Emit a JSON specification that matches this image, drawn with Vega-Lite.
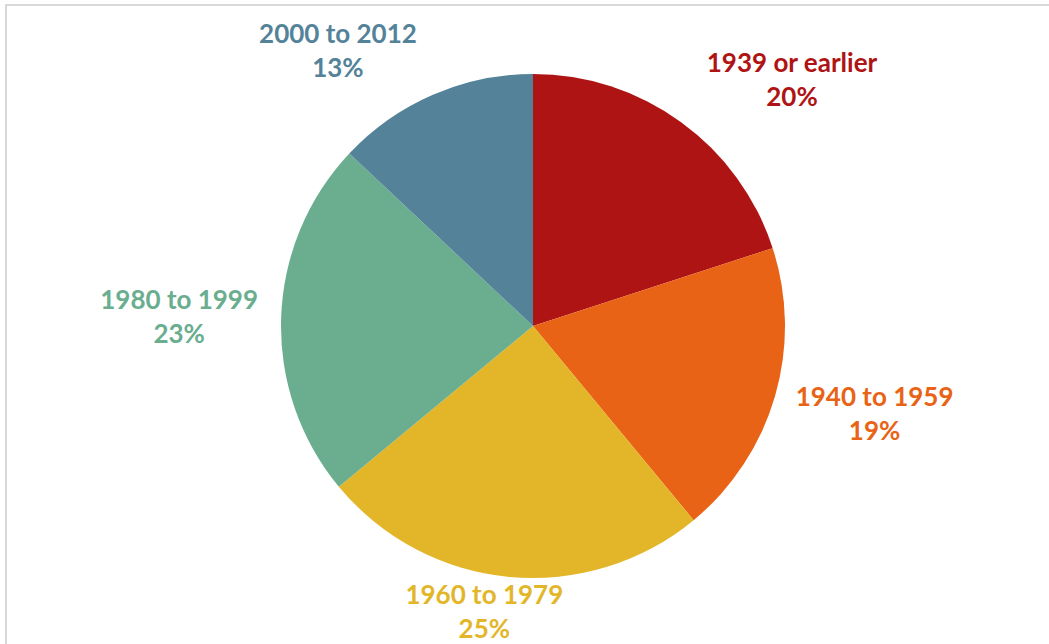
{
  "$schema": "https://vega.github.io/schema/vega-lite/v6.json",
  "width": 1049,
  "height": 644,
  "autosize": {"type": "fit", "contains": "padding"},
  "padding": {"left": 6, "top": 5, "right": -11, "bottom": -3},
  "background": "white",
  "view": {"stroke": "#d9d9d9", "strokeWidth": 2, "fill": "white"},
  "config": {"view": {"stroke": "#d9d9d9", "strokeWidth": 2}},
  "data": {
    "values": [
      {"period": "1939 or earlier", "value": 20, "order": 1},
      {"period": "1940 to 1959", "value": 19, "order": 2},
      {"period": "1960 to 1979", "value": 25, "order": 3},
      {"period": "1980 to 1999", "value": 23, "order": 4},
      {"period": "2000 to 2012", "value": 13, "order": 5}
    ]
  },
  "transform": [
    {"calculate": "datum.period + '\\n' + datum.value + '%'", "as": "label"}
  ],
  "encoding": {
    "theta": {"field": "value", "type": "quantitative", "stack": true},
    "order": {"field": "order", "type": "quantitative"},
    "color": {
      "field": "period",
      "type": "nominal",
      "scale": {
        "domain": ["1939 or earlier", "1940 to 1959", "1960 to 1979", "1980 to 1999", "2000 to 2012"],
        "range": ["#AF1414", "#E86315", "#E3B629", "#6AAD8F", "#548399"]
      },
      "legend": null
    }
  },
  "layer": [
    {"mark": {"type": "arc", "outerRadius": 252}},
    {
      "mark": {"type": "text", "radius": 262, "align": "center", "baseline": "middle", "dx": 105, "dy": -50, "fontSize": 26, "fontWeight": "bold", "font": "Lato", "lineHeight": 34, "lineBreak": "\n"},
      "encoding": {"text": {"condition": {"test": "datum.period == '1939 or earlier'", "field": "label"}, "value": ""}}
    },
    {
      "mark": {"type": "text", "radius": 262, "align": "center", "baseline": "middle", "dx": 90, "dy": -1, "fontSize": 26, "fontWeight": "bold", "font": "Lato", "lineHeight": 34, "lineBreak": "\n"},
      "encoding": {"text": {"condition": {"test": "datum.period == '1940 to 1959'", "field": "label"}, "value": ""}}
    },
    {
      "mark": {"type": "text", "radius": 262, "align": "center", "baseline": "middle", "dx": -24, "dy": 9, "fontSize": 26, "fontWeight": "bold", "font": "Lato", "lineHeight": 34, "lineBreak": "\n"},
      "encoding": {"text": {"condition": {"test": "datum.period == '1960 to 1979'", "field": "label"}, "value": ""}}
    },
    {
      "mark": {"type": "text", "radius": 262, "align": "center", "baseline": "middle", "dx": -92, "dy": -17, "fontSize": 26, "fontWeight": "bold", "font": "Lato", "lineHeight": 34, "lineBreak": "\n"},
      "encoding": {"text": {"condition": {"test": "datum.period == '1980 to 1999'", "field": "label"}, "value": ""}}
    },
    {
      "mark": {"type": "text", "radius": 262, "align": "center", "baseline": "middle", "dx": -91, "dy": -51, "fontSize": 26, "fontWeight": "bold", "font": "Lato", "lineHeight": 34, "lineBreak": "\n"},
      "encoding": {"text": {"condition": {"test": "datum.period == '2000 to 2012'", "field": "label"}, "value": ""}}
    }
  ]
}
